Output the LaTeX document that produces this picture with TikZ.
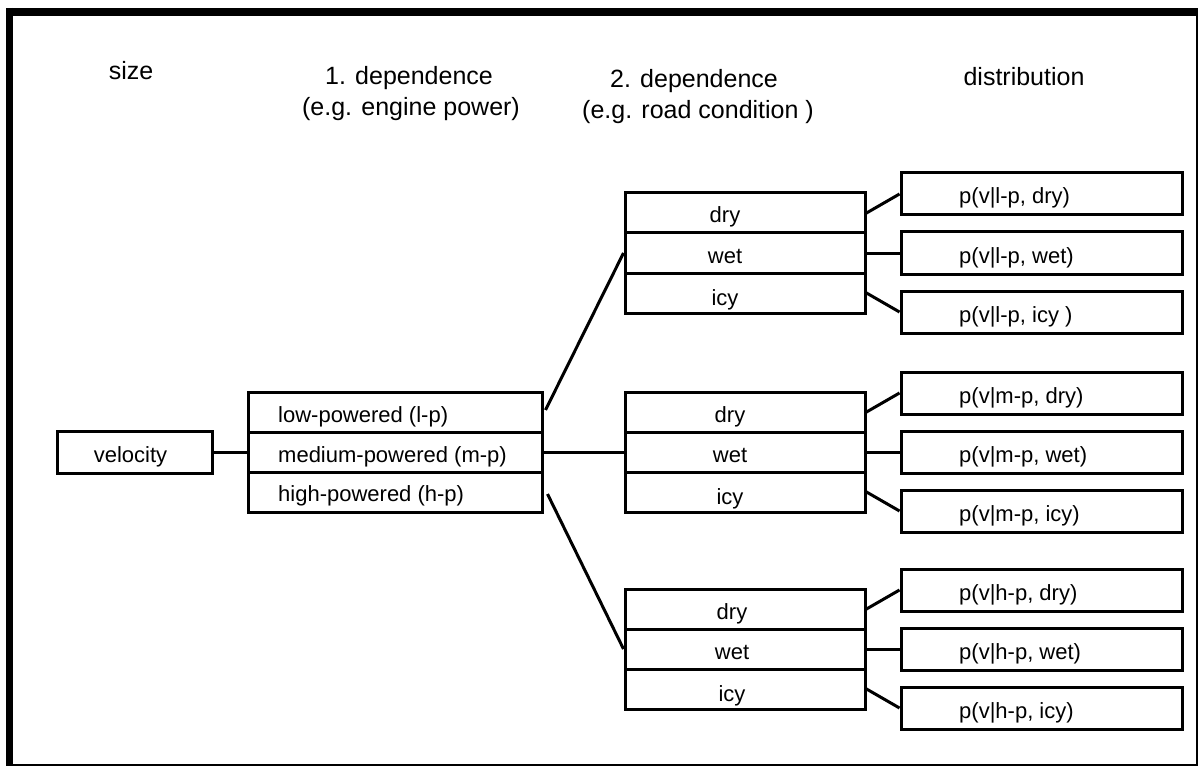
\documentclass[tikz,border=0pt]{standalone}
\usepackage{fontspec}
\setmainfont{Liberation Sans}
\usetikzlibrary{calc}
\begin{document}
\begin{tikzpicture}[x=1pt,y=-1pt,
  box/.style={draw, rectangle, line width=3pt, inner sep=0pt},
  wh/.style 2 args={minimum width=#1, minimum height=#2},
  conn/.style={line width=3pt},
  lbl/.style={font=\fontsize{22}{26}\selectfont, inner sep=0pt, anchor=base},
  head/.style={font=\fontsize{25}{30}\selectfont, inner sep=0pt, anchor=base}]
\useasboundingbox (0,0) rectangle (1198,767);

% frame with heavy left and top edges
\draw[line width=1.2pt] (10,12) rectangle (1197,765);
\draw[line width=7pt] (9.5,8) -- (9.5,766);
\draw[line width=8pt] (6,12) -- (1197.5,12);

% column headings
\node[head] (hsize) at (131,80) {size};
\node[head] (hdepa) at (409,85) {1. dependence};
\node[head] (hdepb) at (411,116) {(e.g. engine power)};
\node[head] (hroada) at (694,88) {2. dependence};
\node[head] (hroadb) at (698,119) {(e.g. road condition )};
\node[head] (hdist) at (1024,86) {distribution};

% quantity
\node[box, wh={155}{42}] (vel) at (134.5,452) {};
\node[lbl] (velt) at (130.5,462) {velocity};

% first dependence: engine power
\node[box, wh={294}{40}] (pl) at (395,412) {};
\node[box, wh={294}{40}] (pm) at (395,452) {};
\node[box, wh={294}{40}] (ph) at (395,492) {};
\node[lbl, anchor=base west] (plt) at (278,422) {low-powered (l-p)};
\node[lbl, anchor=base west] (pmt) at (278,462) {medium-powered (m-p)};
\node[lbl, anchor=base west] (pht) at (278,501) {high-powered (h-p)};

\draw[conn] (vel.east) -- (pm.west);

% second dependence (road condition) and distributions per power class
\foreach \g/\t/\tx/\gl/\sp in {l/193/725/l-p/{\ }, m/392/730/m-p/{}, h/589/732/h-p/{}} {
  \node[box, wh={240}{40}] (r\g1) at (745,\t+20) {};
  \node[box, wh={240}{40}] (r\g2) at (745,\t+60) {};
  \node[box, wh={240}{40}] (r\g3) at (745,\t+100) {};
  \node[lbl] (r\g1t) at (\tx,\t+30) {dry};
  \node[lbl] (r\g2t) at (\tx,\t+70) {wet};
  \node[lbl] (r\g3t) at (\tx,\t+112) {icy};

  \node[box, wh={281}{42}] (d\g1) at (1041.5,\t+1) {};
  \node[box, wh={281}{42}] (d\g2) at (1041.5,\t+60) {};
  \node[box, wh={281}{42}] (d\g3) at (1041.5,\t+119) {};
  \node[lbl, anchor=base west] (d\g1t) at (959,\t+11) {p(v|\gl, dry)};
  \node[lbl, anchor=base west] (d\g2t) at (959,\t+70) {p(v|\gl, wet)};
  \node[lbl, anchor=base west] (d\g3t) at (959,\t+129) {p(v|\gl, icy\sp)};

  \draw[conn] (r\g1.east) -- (d\g1.west);
  \draw[conn] (r\g2.east) -- (d\g2.west);
  \draw[conn] (r\g3.east) -- (d\g3.west);
}

% power classes to road conditions
\draw[conn] ([xshift=2pt,yshift=2pt]pl.east) -- (rl2.west);
\draw[conn] (pm.east) -- (rm2.west);
\draw[conn] ([xshift=4pt,yshift=-2pt]ph.east) -- (rh2.west);
\end{tikzpicture}
\end{document}
